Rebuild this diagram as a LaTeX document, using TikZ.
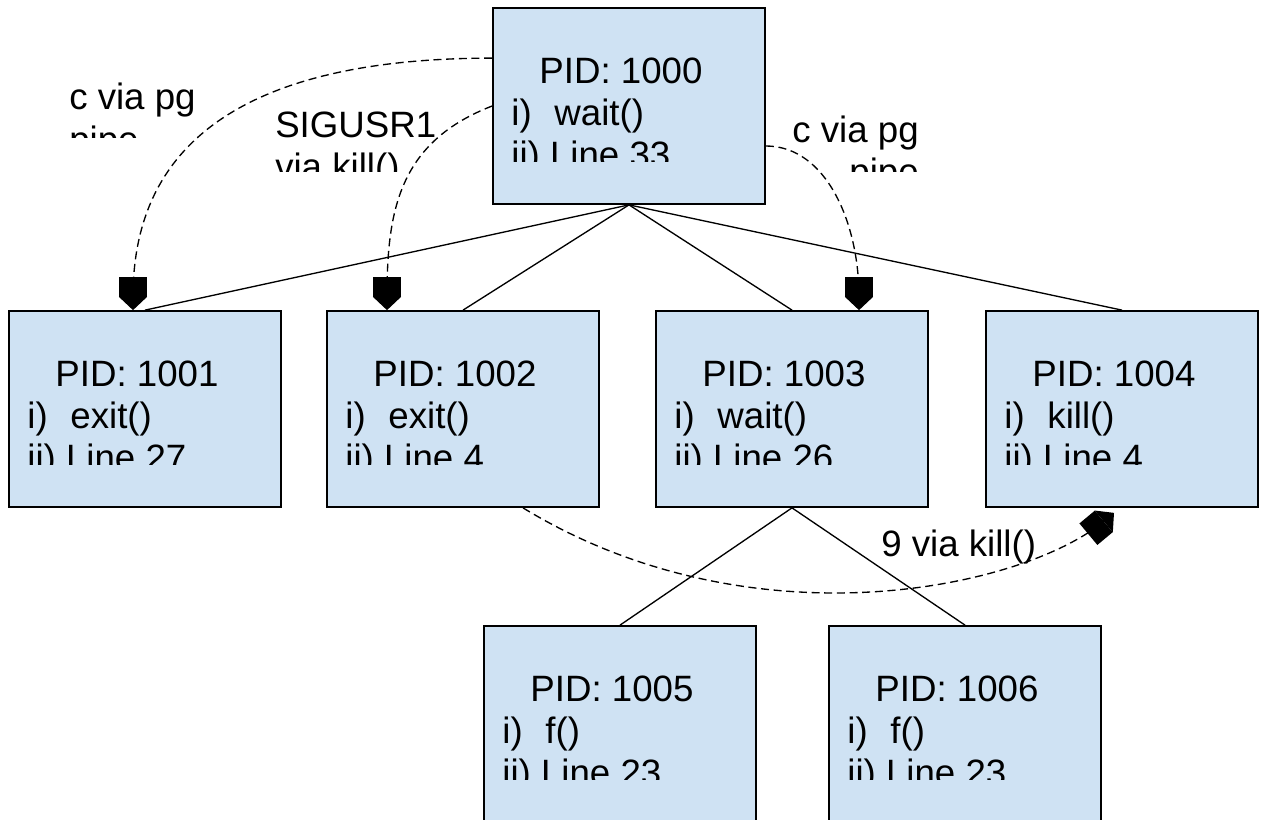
\documentclass[tikz,border=0pt]{standalone}
\usepackage{fontspec}
\setmainfont{Liberation Sans}
\usetikzlibrary{arrows.meta,calc}
\definecolor{procblue}{HTML}{CFE2F3}

\begin{document}
\begin{tikzpicture}[x=0.75pt,y=-0.75pt,
  >={Square[length=15pt,width=21pt]Triangle[length=10pt,width=21pt]},
  proc/.style={draw,line width=1.3pt,fill=procblue,minimum width=204pt,minimum height=147pt,inner sep=0pt},
  txt/.style={inner sep=0pt,anchor=base west,font=\fontsize{27.5}{31.5}\selectfont},
  tree/.style={line width=1pt},
  msg/.style={->,line width=1pt,dash pattern=on 6pt off 3.5pt}]
\path[use as bounding box,clip] (0,0) rectangle (1263,820);
% process boxes, third line cut off as in the drawing
\foreach \n/\cx/\cy/\fun/\lno in {1000/629/106/wait()/33, 1001/145/409/exit()/27, 1002/463/409/exit()/4,
    1003/792/409/wait()/26, 1004/1122/409/kill()/4, 1005/620/724/f()/23, 1006/965/724/f()/23}{
  \node[proc] (p\n) at (\cx,\cy) {};
  \begin{scope}
    \clip (p\n.north west) rectangle ($(p\n.north east)+(0,154)$);
    \node[txt] (p\n-pid) at ($(p\n.north west)+(47,76)$) {PID: \n};
    \node[txt] (p\n-fn) at ($(p\n.north west)+(19,118)$) {i)\hspace{17pt}\fun};
    \node[txt] (p\n-ln) at ($(p\n.north west)+(19,160)$) {ii) Line \lno};
  \end{scope}
}
\foreach \c in {1001,...,1004}
  \draw[tree] (p1000.south) -- (p\c.north);
\draw[tree] (p1003.south) -- (p1005.north);
\draw[tree] (p1003.south) -- (p1006.north);

% messages
\draw[msg] ($(p1000.north west)+(0,51)$) .. controls +(-301,0) and +(0,-125) .. ($(p1001.north)+(-12,0)$);
\draw[msg] (p1000.west) .. controls +(-93,36) and +(0,-100) .. ($(p1002.north)+(-76,0)$);
\draw[msg] ($(p1000.east)+(0,40)$) .. controls +(60,0) and +(0,-88) .. ($(p1003.north)+(67,0)$);
\draw[msg] ($(p1002.south)+(60,0)$) .. controls +(230,140) and +(-90,75) .. ($(p1004.south)+(-8,5)$);

\begin{scope}
  \clip (40,70) rectangle (240,138);
  \node[txt] (lpipe1) at (69,110) {c via pg};
  \node[txt] (lpipe2) at (69,152) {pipe};
\end{scope}
\begin{scope}
  \clip (250,95) rectangle (470,172);
  \node[txt] (usr1) at (275,138) {SIGUSR1};
  \node[txt] (usr2) at (275,180) {via kill()};
\end{scope}
\begin{scope}
  \clip (770,100) rectangle (960,172);
  \node[txt,anchor=base east] (rpipe1) at (919,143) {c via pg};
  \node[txt,anchor=base east] (rpipe2) at (919,185) {pipe};
\end{scope}
\node[txt] (sig9) at (881,556) {9 via kill()};
\end{tikzpicture}
\end{document}
